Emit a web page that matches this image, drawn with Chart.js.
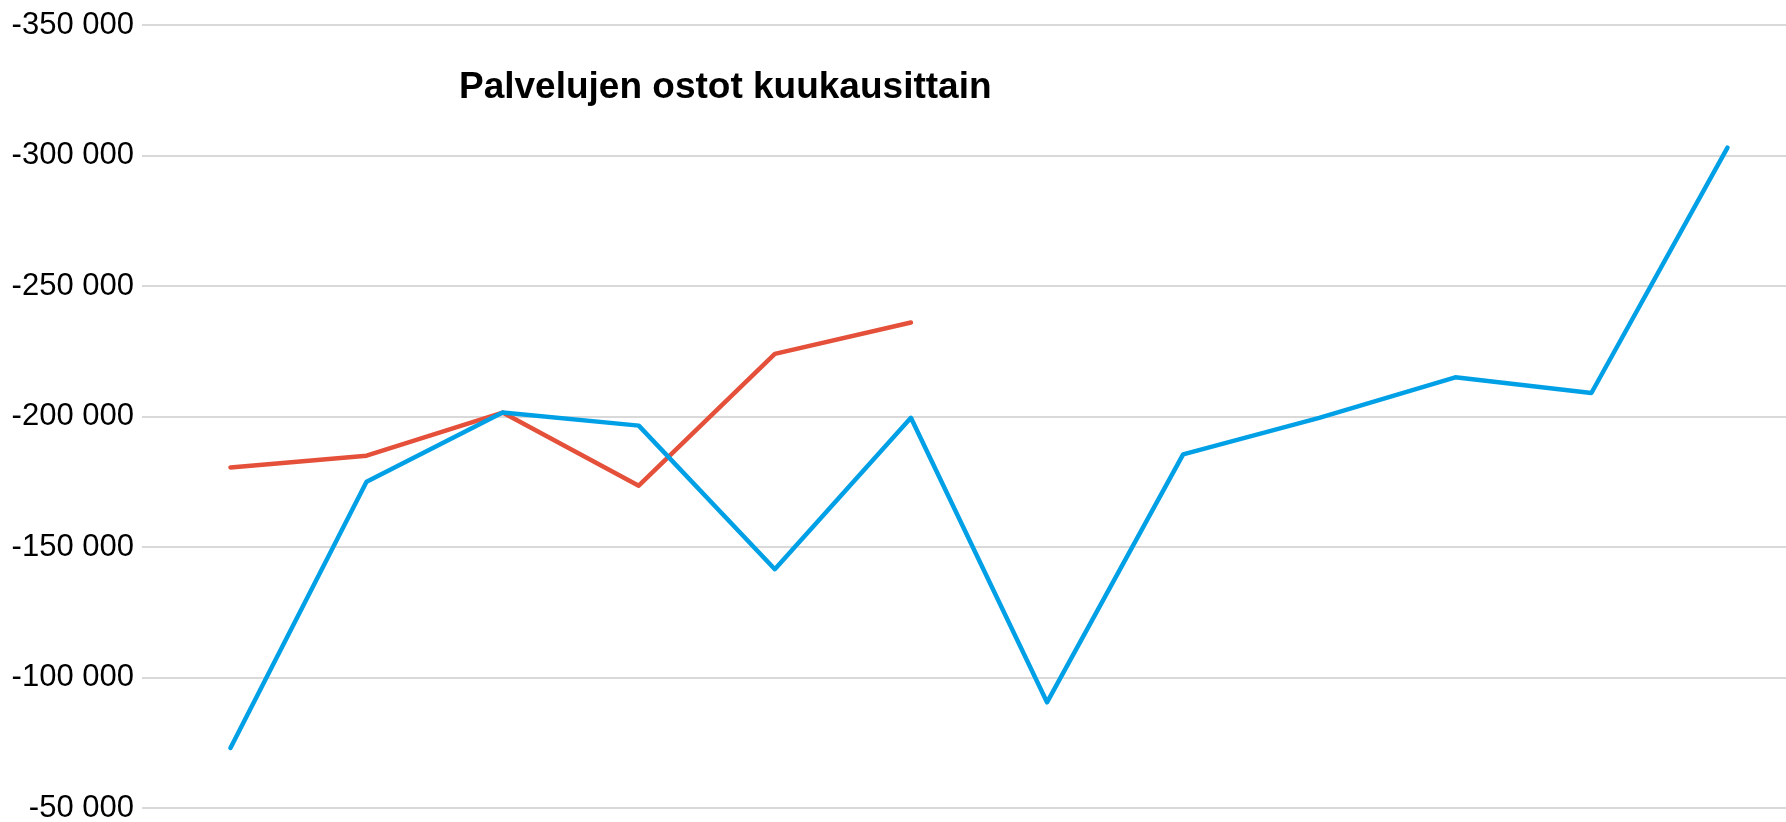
<!DOCTYPE html>
<html>
<head>
<meta charset="utf-8">
<script src="https://cdn.jsdelivr.net/npm/chart.js@4"></script>
<style>
  html, body { margin: 0; padding: 0; background: #fff; }
  #wrap { width: 1786px; height: 822px; }
</style>
</head>
<body>
<div id="wrap"><canvas id="chart"></canvas></div>
<script>
/* ── Datos ───────────────────────────────────────────────── */
const MONTHS = ['Tammi','Helmi','Maalis','Huhti','Touko','Kesä','Heinä','Elo','Syys','Loka','Marras','Joulu'];
const SERIES_A = [-73000, -175000, -201500, -196500, -141500, -199500, -90500, -185500, -199500, -215000, -209000, -303000];
const SERIES_B = [-180500, -185000, -201500, -173500, -224000, -236000];
const Y_TICKS  = [-350000, -300000, -250000, -200000, -150000, -100000, -50000];
const TITLE    = 'Palvelujen ostot kuukausittain';

const BLUE = '#00A0E6';
const RED  = '#E5503A';
const FONT = "'Liberation Sans', Arial, sans-serif";

const toPoints = arr => arr.map((v, i) => ({ x: i, y: v }));
const fmt = v => {
  const s = Math.abs(v).toString().replace(/\B(?=(\d{3})+(?!\d))/g, ' ');
  return (v < 0 ? '-' : '') + s;
};

/* ── Título dentro del área ──────────────────────────────── */
const titlePlugin = {
  id: 'innerTitle',
  afterDraw(chart) {
    const { ctx, chartArea } = chart;
    ctx.save();
    ctx.font = `bold 37px ${FONT}`;
    ctx.fillStyle = '#000';
    ctx.textAlign = 'left';
    ctx.textBaseline = 'middle';
    ctx.fillText(TITLE, chartArea.left + 317, 88);
    ctx.restore();
  }
};

new Chart(document.getElementById('chart'), {
  type: 'line',
  data: {
    labels: MONTHS,
    datasets: [
      {
        label: 'A', data: toPoints(SERIES_A),
        borderColor: BLUE, borderWidth: 4.5,
        pointRadius: 0, tension: 0, fill: false,
        borderCapStyle: 'round', borderJoinStyle: 'round',
      },
      {
        label: 'B', data: toPoints(SERIES_B),
        borderColor: RED, borderWidth: 4.5,
        pointRadius: 0, tension: 0, fill: false,
        borderCapStyle: 'round', borderJoinStyle: 'round',
      },
    ],
  },
  options: {
    responsive: true, maintainAspectRatio: false, animation: false,
    layout: { padding: { top: 25, bottom: 14, left: 0, right: 0 } },
    scales: {
      x: { type: 'linear', display: false, min: -0.65, max: 11.43 },
      y: {
        reverse: true, min: Y_TICKS[0], max: Y_TICKS[Y_TICKS.length - 1],
        afterBuildTicks: s => { s.ticks = Y_TICKS.map(v => ({ value: v })); },
        afterFit: s => { s.width = 142; s.paddingTop = 0; s.paddingBottom = 0; },
        grid: { color: '#d9d9d9', lineWidth: 2, drawTicks: false },
        border: { display: false },
        ticks: {
          padding: 8, color: '#000',
          font: { family: FONT, size: 31 },
          callback: v => fmt(v),
        },
      },
    },
    plugins: { legend: { display: false }, tooltip: { enabled: false } },
  },
  plugins: [titlePlugin],
});
</script>
</body>
</html>
